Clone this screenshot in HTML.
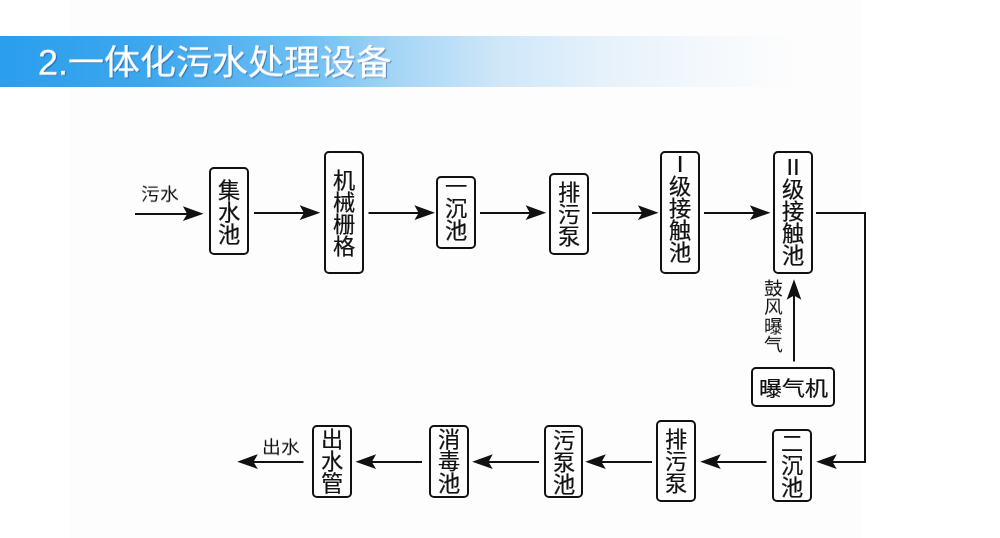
<!DOCTYPE html>
<html lang="zh-CN">
<head>
<meta charset="utf-8">
<style>
html,body{margin:0;padding:0;}
body{-webkit-font-smoothing:antialiased;width:1000px;height:538px;position:relative;overflow:hidden;background:#ffffff;font-family:"Liberation Sans",sans-serif;color:#111111;}
#panel{position:absolute;left:69px;top:0;width:792px;height:538px;background:#fdfdfd;}
#bar{position:absolute;left:0;top:36px;width:1000px;height:51px;background:linear-gradient(to right,#2a9eec 0px,#3da7ee 150px,#6cbef2 300px,#a6d6f6 400px,#cfe7f8 500px,#e5f1fb 600px,#f3f8fc 700px,rgba(253,253,253,1) 800px,rgba(253,253,253,0) 830px);}
#title{position:absolute;left:38px;top:41px;transform:scaleY(0.955);transform-origin:0 4px;font-size:36px;line-height:46px;color:#fff;font-weight:300;text-shadow:1px 1px 1px rgba(0,50,120,0.55);-webkit-text-stroke:0.3px #fff;white-space:nowrap;will-change:transform;}
.box{position:absolute;will-change:transform;box-sizing:border-box;border:2px solid #111111;border-radius:5px;display:flex;flex-direction:column;align-items:center;justify-content:center;font-size:22.2px;line-height:22px;-webkit-text-stroke:0.25px #111111;}
.box span{display:block;position:relative;top:var(--o,0px);transform:scaleY(0.96);}
.lbl{position:absolute;transform:scaleY(0.92);font-size:18.8px;line-height:18.2px;white-space:nowrap;will-change:transform;}
svg{position:absolute;left:0;top:0;}
</style>
</head>
<body>
<div id="panel"></div>
<div id="bar"></div>
<div id="title">2.一体化污水处理设备</div>

<div class="box" style="left:209px;top:167px;width:40px;height:88px;--o:1.5px;"><span>集</span><span>水</span><span>池</span></div>
<div class="box" style="left:324px;top:151px;width:40px;height:123px;--o:1px;"><span>机</span><span>械</span><span>栅</span><span>格</span></div>
<div class="box" style="left:436px;top:176px;width:40px;height:73px;--o:-3.5px;"><span>一</span><span>沉</span><span>池</span></div>
<div class="box" style="left:549px;top:173px;width:40px;height:82px;--o:0.5px;"><span>排</span><span>污</span><span>泵</span></div>
<div class="box" style="left:660px;top:151px;width:40px;height:123px;--o:-3.2px;"><span>Ⅰ</span><span>级</span><span>接</span><span>触</span><span>池</span></div>
<div class="box" style="left:773px;top:151px;width:40px;height:123px;--o:-0.3px;"><span>Ⅱ</span><span>级</span><span>接</span><span>触</span><span>池</span></div>
<div class="box" style="left:751px;top:367px;width:84px;height:40px;flex-direction:row;padding-top:3px;font-size:23px;"><span style="transform:scaleY(0.9)">曝气机</span></div>
<div class="box" style="left:772px;top:429px;width:40px;height:73px;--o:0.5px;"><span>二</span><span>沉</span><span>池</span></div>
<div class="box" style="left:656px;top:420px;width:40px;height:82px;--o:0.5px;"><span>排</span><span>污</span><span>泵</span></div>
<div class="box" style="left:544px;top:425px;width:39px;height:73px;--o:1px;"><span>污</span><span>泵</span><span>池</span></div>
<div class="box" style="left:429px;top:425px;width:40px;height:73px;--o:0.5px;"><span>消</span><span>毒</span><span>池</span></div>
<div class="box" style="left:312px;top:425px;width:40px;height:73px;--o:0.5px;"><span>出</span><span>水</span><span>管</span></div>

<div class="lbl" style="left:141.4px;top:185.5px;">污水</div>
<div class="lbl" style="left:262px;top:439px;">出水</div>
<div class="lbl" style="left:764px;top:277.1px;width:20px;white-space:normal;line-height:20.4px;">鼓风曝气</div>

<svg width="1000" height="538" viewBox="0 0 1000 538">
<g stroke="#111111" stroke-width="2" fill="none">
<path d="M135 214H190"/>
<path d="M254 213H306"/>
<path d="M368.5 213H421"/>
<path d="M480 213H533"/>
<path d="M592 213H645"/>
<path d="M704 213H758"/>
<path d="M816 213H865V462H830"/>
<path d="M794 361.5V293"/>
<path d="M766.5 462H714"/>
<path d="M652 462H599"/>
<path d="M539 462H486"/>
<path d="M422 462H368"/>
<path d="M303.5 462H251"/>
</g>
<g fill="#111111">
<path d="M203.50 213.80 L182.90 206.20 L187.20 214.00 L182.90 221.00 Z"/>
<path d="M320.30 212.80 L299.70 205.20 L304.00 213.00 L299.70 220.00 Z"/>
<path d="M435.00 212.80 L414.40 205.20 L418.70 213.00 L414.40 220.00 Z"/>
<path d="M546.20 212.80 L525.60 205.20 L529.90 213.00 L525.60 220.00 Z"/>
<path d="M658.50 212.80 L637.90 205.20 L642.20 213.00 L637.90 220.00 Z"/>
<path d="M770.50 212.80 L749.90 205.20 L754.20 213.00 L749.90 220.00 Z"/>
<path d="M794.00 279.20 L786.70 299.80 L794.00 295.50 L801.30 299.80 Z"/>
<path d="M816.20 461.80 L836.80 454.20 L832.50 462.00 L836.80 469.00 Z"/>
<path d="M700.20 461.80 L720.80 454.20 L716.50 462.00 L720.80 469.00 Z"/>
<path d="M585.20 461.80 L605.80 454.20 L601.50 462.00 L605.80 469.00 Z"/>
<path d="M472.20 461.80 L492.80 454.20 L488.50 462.00 L492.80 469.00 Z"/>
<path d="M355.50 461.80 L376.10 454.20 L371.80 462.00 L376.10 469.00 Z"/>
<path d="M237.20 461.80 L257.80 454.20 L253.50 462.00 L257.80 469.00 Z"/>
</g>
</svg>
</body>
</html>
